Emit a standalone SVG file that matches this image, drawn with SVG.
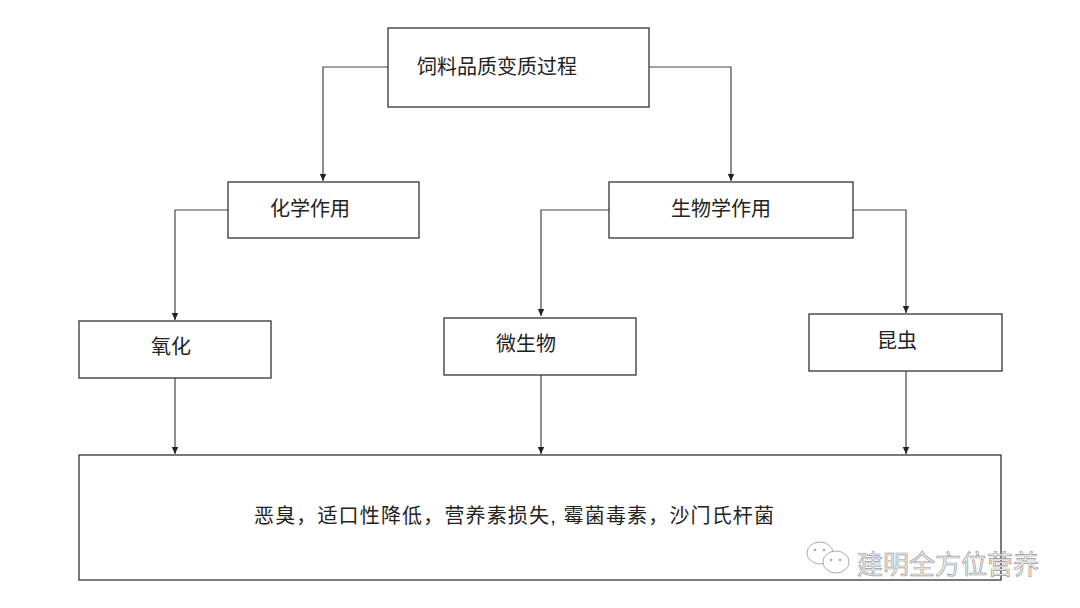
<svg xmlns="http://www.w3.org/2000/svg" width="1080" height="608" viewBox="0 0 1080 608">
<style>
.box{fill:#fff;stroke:#333;stroke-width:1.3}
.lbl{font-family:"Liberation Sans","Noto Sans CJK SC",sans-serif;font-size:20px;fill:#222;dominant-baseline:central}
.con{fill:none;stroke:#444;stroke-width:1.2}
.wm{font-family:"Noto Sans CJK SC",sans-serif;font-size:26px;fill:#f4f4f4;stroke:#9a9a9a;stroke-width:0.7;dominant-baseline:central}
</style>
<defs>
<marker id="arr" markerWidth="8" markerHeight="8" refX="7" refY="4" orient="auto" markerUnits="userSpaceOnUse">
<path d="M0,0.8 L7,4 L0,7.2 Z" fill="#222"/>
</marker>
</defs>
<rect width="1080" height="608" fill="#fff"/>
<g id="connectors">
<path class="con" d="M388,67 H323 V181" marker-end="url(#arr)"/>
<path class="con" d="M649,67 H731 V181" marker-end="url(#arr)"/>
<path class="con" d="M228,210 H175 V320" marker-end="url(#arr)"/>
<path class="con" d="M609,210 H541 V316" marker-end="url(#arr)"/>
<path class="con" d="M853,210 H906 V313" marker-end="url(#arr)"/>
<path class="con" d="M175,378 V454" marker-end="url(#arr)"/>
<path class="con" d="M541,375 V454" marker-end="url(#arr)"/>
<path class="con" d="M906,371 V454" marker-end="url(#arr)"/>
</g>
<g id="n-top"><rect class="box" x="388" y="28" width="261" height="79"/><text class="lbl" x="417" y="67">饲料品质变质过程</text></g>
<g id="n-chem"><rect class="box" x="228" y="182" width="191" height="56"/><text class="lbl" x="270" y="209">化学作用</text></g>
<g id="n-bio"><rect class="box" x="609" y="182" width="244" height="56"/><text class="lbl" x="671" y="209">生物学作用</text></g>
<g id="n-ox"><rect class="box" x="79" y="321" width="192" height="57"/><text class="lbl" x="151" y="347">氧化</text></g>
<g id="n-micro"><rect class="box" x="444" y="318" width="192" height="57"/><text class="lbl" x="496" y="344">微生物</text></g>
<g id="n-insect"><rect class="box" x="809" y="314" width="193" height="57"/><text class="lbl" x="877" y="341">昆虫</text></g>
<g id="n-result"><rect class="box" x="79" y="455" width="922" height="125"/><text class="lbl" x="254" y="516" textLength="520" lengthAdjust="spacing">恶臭，适口性降低，营养素损失, 霉菌毒素，沙门氏杆菌</text></g>
<g id="watermark">
<ellipse cx="820" cy="553" rx="13" ry="11" fill="#fff" stroke="#aaa" stroke-width="1"/>
<ellipse cx="836" cy="562" rx="13" ry="11" fill="#fff" stroke="#aaa" stroke-width="1"/>
<circle cx="831" cy="560" r="1.3" fill="#aaa"/><circle cx="840" cy="560" r="1.3" fill="#aaa"/>
<circle cx="815" cy="550" r="1.3" fill="#aaa"/><circle cx="824" cy="550" r="1.3" fill="#aaa"/>
<text class="wm" x="857" y="562">建明全方位营养</text>
</g>
</svg>
